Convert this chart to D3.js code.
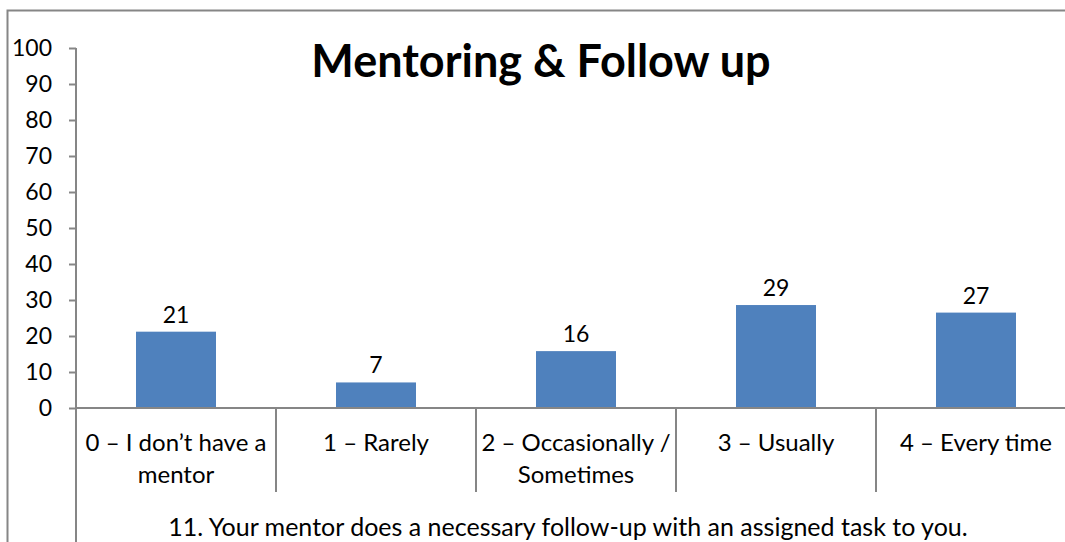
<!DOCTYPE html>
<html>
<head>
<meta charset="utf-8">
<script src="https://cdn.jsdelivr.net/npm/d3@7"></script>
<style>
  body { margin: 0; background: #fff; }
  text { font-family: Lato, "Open Sans", sans-serif; fill: #000; }
</style>
</head>
<body>
<div id="chart"></div>
<script>
// data
var categories = [
  ["0 \u2013 I don\u2019t have a", "mentor"],
  ["1 \u2013 Rarely"],
  ["2 \u2013 Occasionally /", "Sometimes"],
  ["3 \u2013 Usually"],
  ["4 \u2013 Every time"]
];
var values = [21.2, 7.1, 15.8, 28.6, 26.5];
var yTicks = [0, 10, 20, 30, 40, 50, 60, 70, 80, 90, 100];
var title = "Mentoring & Follow up";
var axisTitle = "11. Your mentor does a necessary follow-up with an assigned task to you.";

var width = 1065, height = 542;
var margin = {top: 48, left: 76, bottom: 134};
var plotBottom = height - margin.bottom; // 408
var grey = "#868686";

var svg = d3.select("#chart").append("svg")
    .attr("width", width)
    .attr("height", height);

// outer frame (runs off the right and bottom edges)
svg.append("rect")
    .attr("x", 7.5).attr("y", 10.5)
    .attr("width", 1100).attr("height", 600)
    .attr("fill", "none")
    .attr("stroke", grey)
    .attr("stroke-width", 2);

var x = d3.scaleBand()
    .domain(d3.range(categories.length))
    .range([margin.left, margin.left + 200 * categories.length])
    .paddingInner(0.6).paddingOuter(0.3);

var y = d3.scaleLinear().domain([0, 100]).range([plotBottom, margin.top]);

// bars
svg.selectAll("rect.bar")
    .data(values)
    .enter().append("rect")
    .attr("class", "bar")
    .attr("x", function (d, i) { return x(i); })
    .attr("width", x.bandwidth())
    .attr("y", function (d) { return y(d); })
    .attr("height", function (d) { return y(0) - y(d); })
    .attr("fill", "#4F81BD");

// value labels
svg.selectAll("text.val")
    .data(values)
    .enter().append("text")
    .attr("class", "val")
    .attr("x", function (d, i) { return x(i) + x.bandwidth() / 2; })
    .attr("y", function (d) { return y(d) - 9; })
    .attr("text-anchor", "middle")
    .style("font-size", "23px")
    .text(function (d) { return d3.format(".0f")(d); });

// y axis
var yAxis = svg.append("g")
    .attr("transform", "translate(" + margin.left + ",0)")
    .call(d3.axisLeft(y).tickValues(yTicks).tickSize(7).tickPadding(17));
yAxis.select(".domain").remove();
yAxis.selectAll(".tick line").attr("stroke", grey).attr("stroke-width", 2);
yAxis.selectAll(".tick text")
    .style("font-size", "23px")
    .style("font-family", "Lato, 'Open Sans', sans-serif")
    .attr("fill", "#000");

svg.append("line")
    .attr("x1", margin.left).attr("x2", margin.left)
    .attr("y1", margin.top).attr("y2", height)
    .attr("stroke", grey).attr("stroke-width", 2);

// x axis baseline
svg.append("line")
    .attr("x1", margin.left).attr("x2", width)
    .attr("y1", plotBottom).attr("y2", plotBottom)
    .attr("stroke", grey).attr("stroke-width", 2);

// category separators
var step = x.step();
svg.selectAll("line.sep")
    .data(d3.range(1, categories.length + 1))
    .enter().append("line")
    .attr("class", "sep")
    .attr("x1", function (d) { return x(0) - x.paddingOuter() * step + d * step; })
    .attr("x2", function (d) { return x(0) - x.paddingOuter() * step + d * step; })
    .attr("y1", plotBottom).attr("y2", 492)
    .attr("stroke", grey).attr("stroke-width", 2);

// category labels
var catG = svg.selectAll("text.cat")
    .data(categories)
    .enter().append("text")
    .attr("class", "cat")
    .attr("text-anchor", "middle")
    .style("font-size", "24px");
catG.selectAll("tspan")
    .data(function (d, i) { return d.map(function (s) { return {s: s, i: i}; }); })
    .enter().append("tspan")
    .attr("x", function (d) { return x(d.i) + x.bandwidth() / 2; })
    .attr("y", function (d, j) { return 451 + j * 32; })
    .text(function (d) { return d.s; });

// titles
svg.append("text")
    .attr("x", 541).attr("y", 77)
    .attr("text-anchor", "middle")
    .style("font-size", "45px")
    .style("font-weight", "bold")
    .text(title);

svg.append("text")
    .attr("x", 568).attr("y", 536)
    .attr("text-anchor", "middle")
    .style("font-size", "25px")
    .text(axisTitle);
</script>
</body>
</html>
